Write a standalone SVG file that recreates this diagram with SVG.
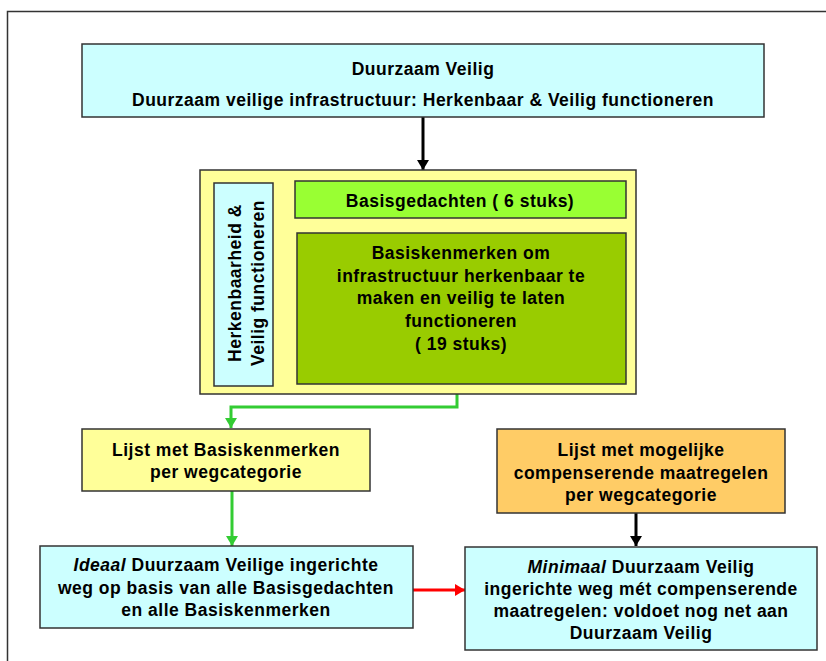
<svg xmlns="http://www.w3.org/2000/svg" width="826" height="661" viewBox="0 0 826 661">
<style>
text{font-family:"Liberation Sans",Arial,sans-serif;font-weight:bold;font-size:17.5px;letter-spacing:0.5px;fill:#000;text-anchor:middle}
.box{stroke:#333;stroke-width:1.5}
.cyan{fill:#CCFFFF}
.yellow{fill:#FFFF99}
.lgreen{fill:#99FF33}
.dgreen{fill:#99CC00}
.orange{fill:#FFCC66}
.line{fill:none;stroke-width:3}
.it{font-style:italic}
</style>
<defs>
<marker id="ab" markerUnits="userSpaceOnUse" markerWidth="12" markerHeight="12" refX="10" refY="6" orient="auto"><path d="M0,0 L10,6 L0,12 Z" fill="#000"/></marker>
<marker id="ag" markerUnits="userSpaceOnUse" markerWidth="12" markerHeight="12" refX="10" refY="6" orient="auto"><path d="M0,0 L10,6 L0,12 Z" fill="#33CC33"/></marker>
<marker id="ar" markerUnits="userSpaceOnUse" markerWidth="12" markerHeight="12" refX="10" refY="6" orient="auto"><path d="M0,0 L10,6 L0,12 Z" fill="#FF0000"/></marker>
</defs>
<rect width="826" height="661" fill="#fff"/>
<path d="M7.5,661 V11.5 H826" fill="none" stroke="#333" stroke-width="1.5"/>

<g id="connectors">
<path class="line" d="M423,117 V170" stroke="#000" marker-end="url(#ab)"/>
<path class="line" d="M457,384 V407 H231 V428" stroke="#33CC33" marker-end="url(#ag)"/>
<path class="line" d="M232,491 V546" stroke="#33CC33" marker-end="url(#ag)"/>
<path class="line" d="M636,513 V546" stroke="#000" marker-end="url(#ab)"/>
<path class="line" d="M413,590 H465" stroke="#FF0000" marker-end="url(#ar)"/>
</g>

<g id="top">
<rect class="box cyan" x="82" y="44" width="682" height="73"/>
<text x="423" y="75">Duurzaam Veilig</text>
<text x="423" y="106">Duurzaam veilige infrastructuur: Herkenbaar &amp; Veilig functioneren</text>
</g>

<g id="container">
<rect class="box yellow" x="200" y="170" width="436" height="224"/>
</g>

<g id="vertical">
<rect class="box cyan" x="214" y="183" width="59" height="203"/>
<text transform="translate(241,283) rotate(-90)">Herkenbaarheid &amp;</text>
<text transform="translate(264,283) rotate(-90)">Veilig functioneren</text>
</g>

<g id="basisgedachten">
<rect class="box lgreen" x="295" y="181" width="331" height="37"/>
<text x="460" y="207">Basisgedachten ( 6 stuks)</text>
</g>

<g id="basiskenmerken">
<rect class="box dgreen" x="297" y="233" width="329" height="151"/>
<text x="461" y="259">Basiskenmerken om</text>
<text x="461" y="282">infrastructuur herkenbaar te</text>
<text x="461" y="304">maken en veilig te laten</text>
<text x="461" y="327">functioneren</text>
<text x="461" y="350">( 19 stuks)</text>
</g>

<g id="lijst-basis">
<rect class="box yellow" x="82" y="429" width="288" height="62"/>
<text x="226" y="456">Lijst met Basiskenmerken</text>
<text x="226" y="478">per wegcategorie</text>
</g>

<g id="lijst-comp">
<rect class="box orange" x="497" y="429" width="288" height="84"/>
<text x="641" y="456">Lijst met mogelijke</text>
<text x="641" y="479">compenserende maatregelen</text>
<text x="641" y="501">per wegcategorie</text>
</g>

<g id="ideaal">
<rect class="box cyan" x="40" y="546" width="373" height="82"/>
<text x="226" y="571"><tspan class="it">Ideaal</tspan> Duurzaam Veilige ingerichte</text>
<text x="226" y="594">weg op basis van alle Basisgedachten</text>
<text x="226" y="616">en alle Basiskenmerken</text>
</g>

<g id="minimaal">
<rect class="box cyan" x="465" y="547" width="352" height="103"/>
<text x="641" y="573"><tspan class="it">Minimaal</tspan> Duurzaam Veilig</text>
<text x="641" y="595">ingerichte weg mét compenserende</text>
<text x="641" y="617">maatregelen: voldoet nog net aan</text>
<text x="641" y="639">Duurzaam Veilig</text>
</g>
</svg>
